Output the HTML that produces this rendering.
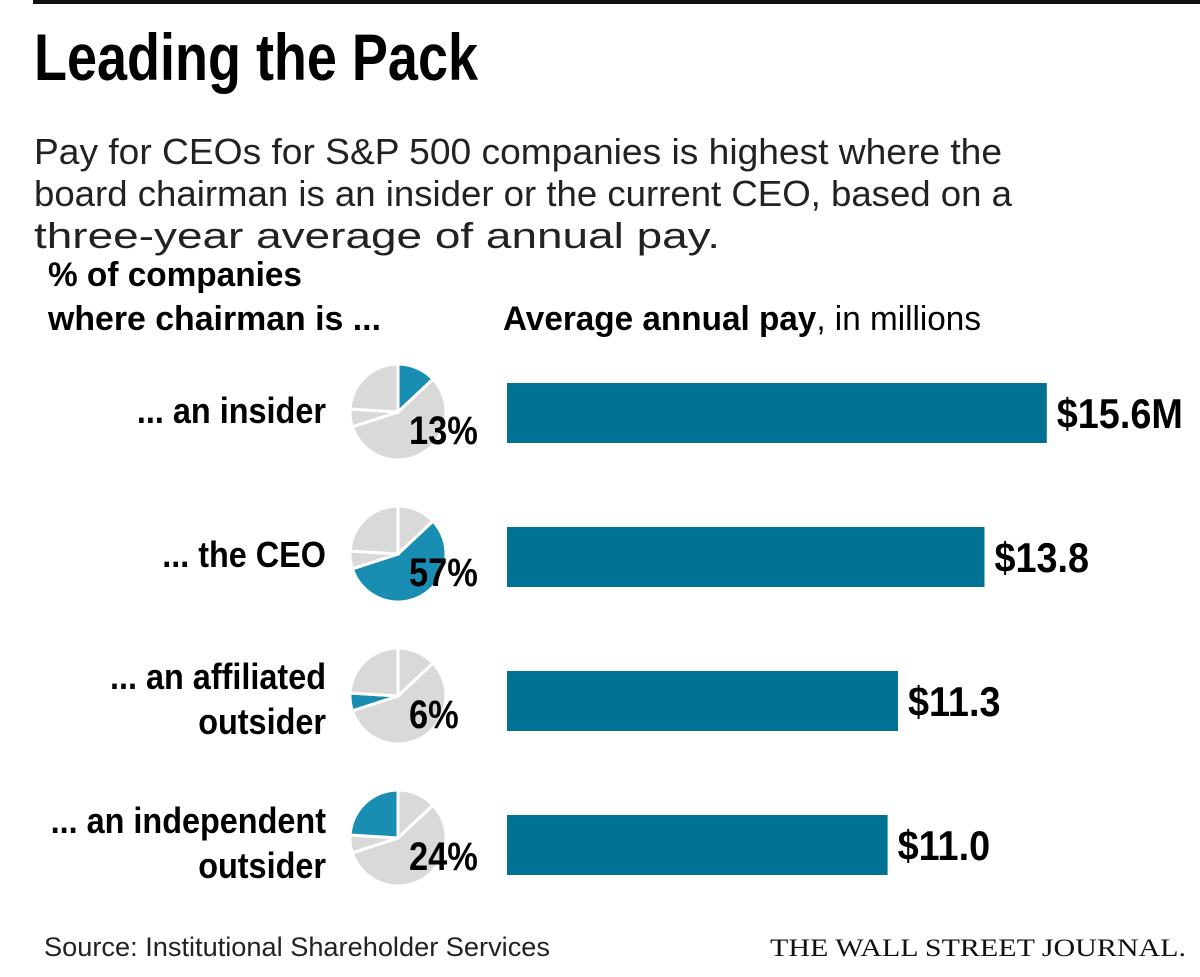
<!DOCTYPE html>
<html><head><meta charset="utf-8"><style>
body{margin:0;background:#fff;}
svg text{font-family:"Liberation Sans Narrow","Liberation Sans",sans-serif;}
</style></head><body>
<svg id="c" width="1200" height="972" xmlns="http://www.w3.org/2000/svg">
<rect x="33" y="0" width="1167" height="4" fill="#111"/>
<text x="34" y="80" font-size="66" font-weight="bold" fill="#000" textLength="444" lengthAdjust="spacingAndGlyphs">Leading the Pack</text>
<g font-size="36" fill="#222">
<text x="34" y="164" textLength="968" lengthAdjust="spacingAndGlyphs">Pay for CEOs for S&amp;P 500 companies is highest where the</text>
<text x="34" y="206" textLength="978" lengthAdjust="spacingAndGlyphs">board chairman is an insider or the current CEO, based on a</text>
<text x="34" y="248" textLength="686" lengthAdjust="spacingAndGlyphs">three-year average of annual pay.</text>
</g>
<text x="48" y="286" font-size="34" font-weight="bold" textLength="254" lengthAdjust="spacingAndGlyphs">% of companies</text>
<text x="48" y="330" font-size="34" font-weight="bold" textLength="333" lengthAdjust="spacingAndGlyphs">where chairman is ...</text>
<text x="503" y="330" font-size="34" textLength="478" lengthAdjust="spacingAndGlyphs"><tspan font-weight="bold">Average annual pay</tspan>, in millions</text>
<g id="rows"></g>
<text x="44" y="956" font-size="27" fill="#222" textLength="506" lengthAdjust="spacingAndGlyphs">Source: Institutional Shareholder Services</text>
<text x="1186" y="956" font-size="25" text-anchor="end" fill="#111" style="font-family:'Liberation Serif',serif" textLength="416" lengthAdjust="spacingAndGlyphs">THE WALL STREET JOURNAL.</text>
</svg>
<script>
const categoriesL1 = ["... an insider", "... the CEO", "... an affiliated", "... an independent"];
const categoriesL2 = ["", "", "outsider", "outsider"];
const shares = [13, 57, 6, 24];
const pay = [15.6, 13.8, 11.3, 11.0];
const payLabels = ["$15.6M", "$13.8", "$11.3", "$11.0"];
const shareLabels = ["13%", "57%", "6%", "24%"];

const NS = "http://www.w3.org/2000/svg";
const g = document.getElementById('rows');
const x0 = 507, pxPer = 34.6;
const xScale = v => x0 + v * pxPer;
const rowY = i => 413 + i * 144;
const pieCY = i => 412 + i * 142;
const pcx = 398, R = 48;
function mk(t, a) { const e = document.createElementNS(NS, t); for (const k in a) e.setAttribute(k, a[k]); g.appendChild(e); return e; }
function squeeze(el, f) { const w = el.getComputedTextLength(); el.setAttribute('textLength', (w * f).toFixed(1)); el.setAttribute('lengthAdjust', 'spacingAndGlyphs'); }
const total = shares.reduce((a, b) => a + b, 0);
shares.forEach((s, i) => {
  const cy = pieCY(i);
  let ang = 0;
  shares.forEach((v, j) => {
    const a0 = ang / total * 2 * Math.PI, a1 = (ang + v) / total * 2 * Math.PI;
    ang += v;
    const p = (a) => [pcx + R * Math.sin(a), cy - R * Math.cos(a)];
    const [xa, ya] = p(a0), [xb, yb] = p(a1);
    const large = (a1 - a0) > Math.PI ? 1 : 0;
    const sl = mk('path', { d: `M${pcx},${cy} L${xa},${ya} A${R},${R} 0 ${large} 1 ${xb},${yb} Z`, fill: j === i ? '#1a8db3' : '#d9d9d9', stroke: '#fff', 'stroke-width': 3 });
    
    
  });
  const pl = mk('text', { x: 409, y: cy + 32, 'font-size': 40, 'font-weight': 'bold', fill: '#000' });
  pl.textContent = shareLabels[i];
  
  
  squeeze(pl, 0.86);
  const y = rowY(i);
  const two = categoriesL2[i] !== "";
  const c1 = mk('text', { x: 326, y: two ? y - 12 : y + 10, 'font-size': 36, 'font-weight': 'bold', 'text-anchor': 'end' });
  c1.textContent = categoriesL1[i];
  
  
  squeeze(c1, 0.9);
  if (two) {
    const c2 = mk('text', { x: 326, y: y + 33, 'font-size': 36, 'font-weight': 'bold', 'text-anchor': 'end' });
    c2.textContent = categoriesL2[i];
    
    
    squeeze(c2, 0.9);
  }
  const b = mk('rect', { x: x0, y: y - 30, width: xScale(pay[i]) - x0, height: 60, fill: '#007294' });
  
  
  const vl = mk('text', { x: xScale(pay[i]) + 10, y: y + 15, 'font-size': 42, 'font-weight': 'bold' });
  vl.textContent = payLabels[i];
  
  
  squeeze(vl, 0.9);
});
</script>
</body></html>
